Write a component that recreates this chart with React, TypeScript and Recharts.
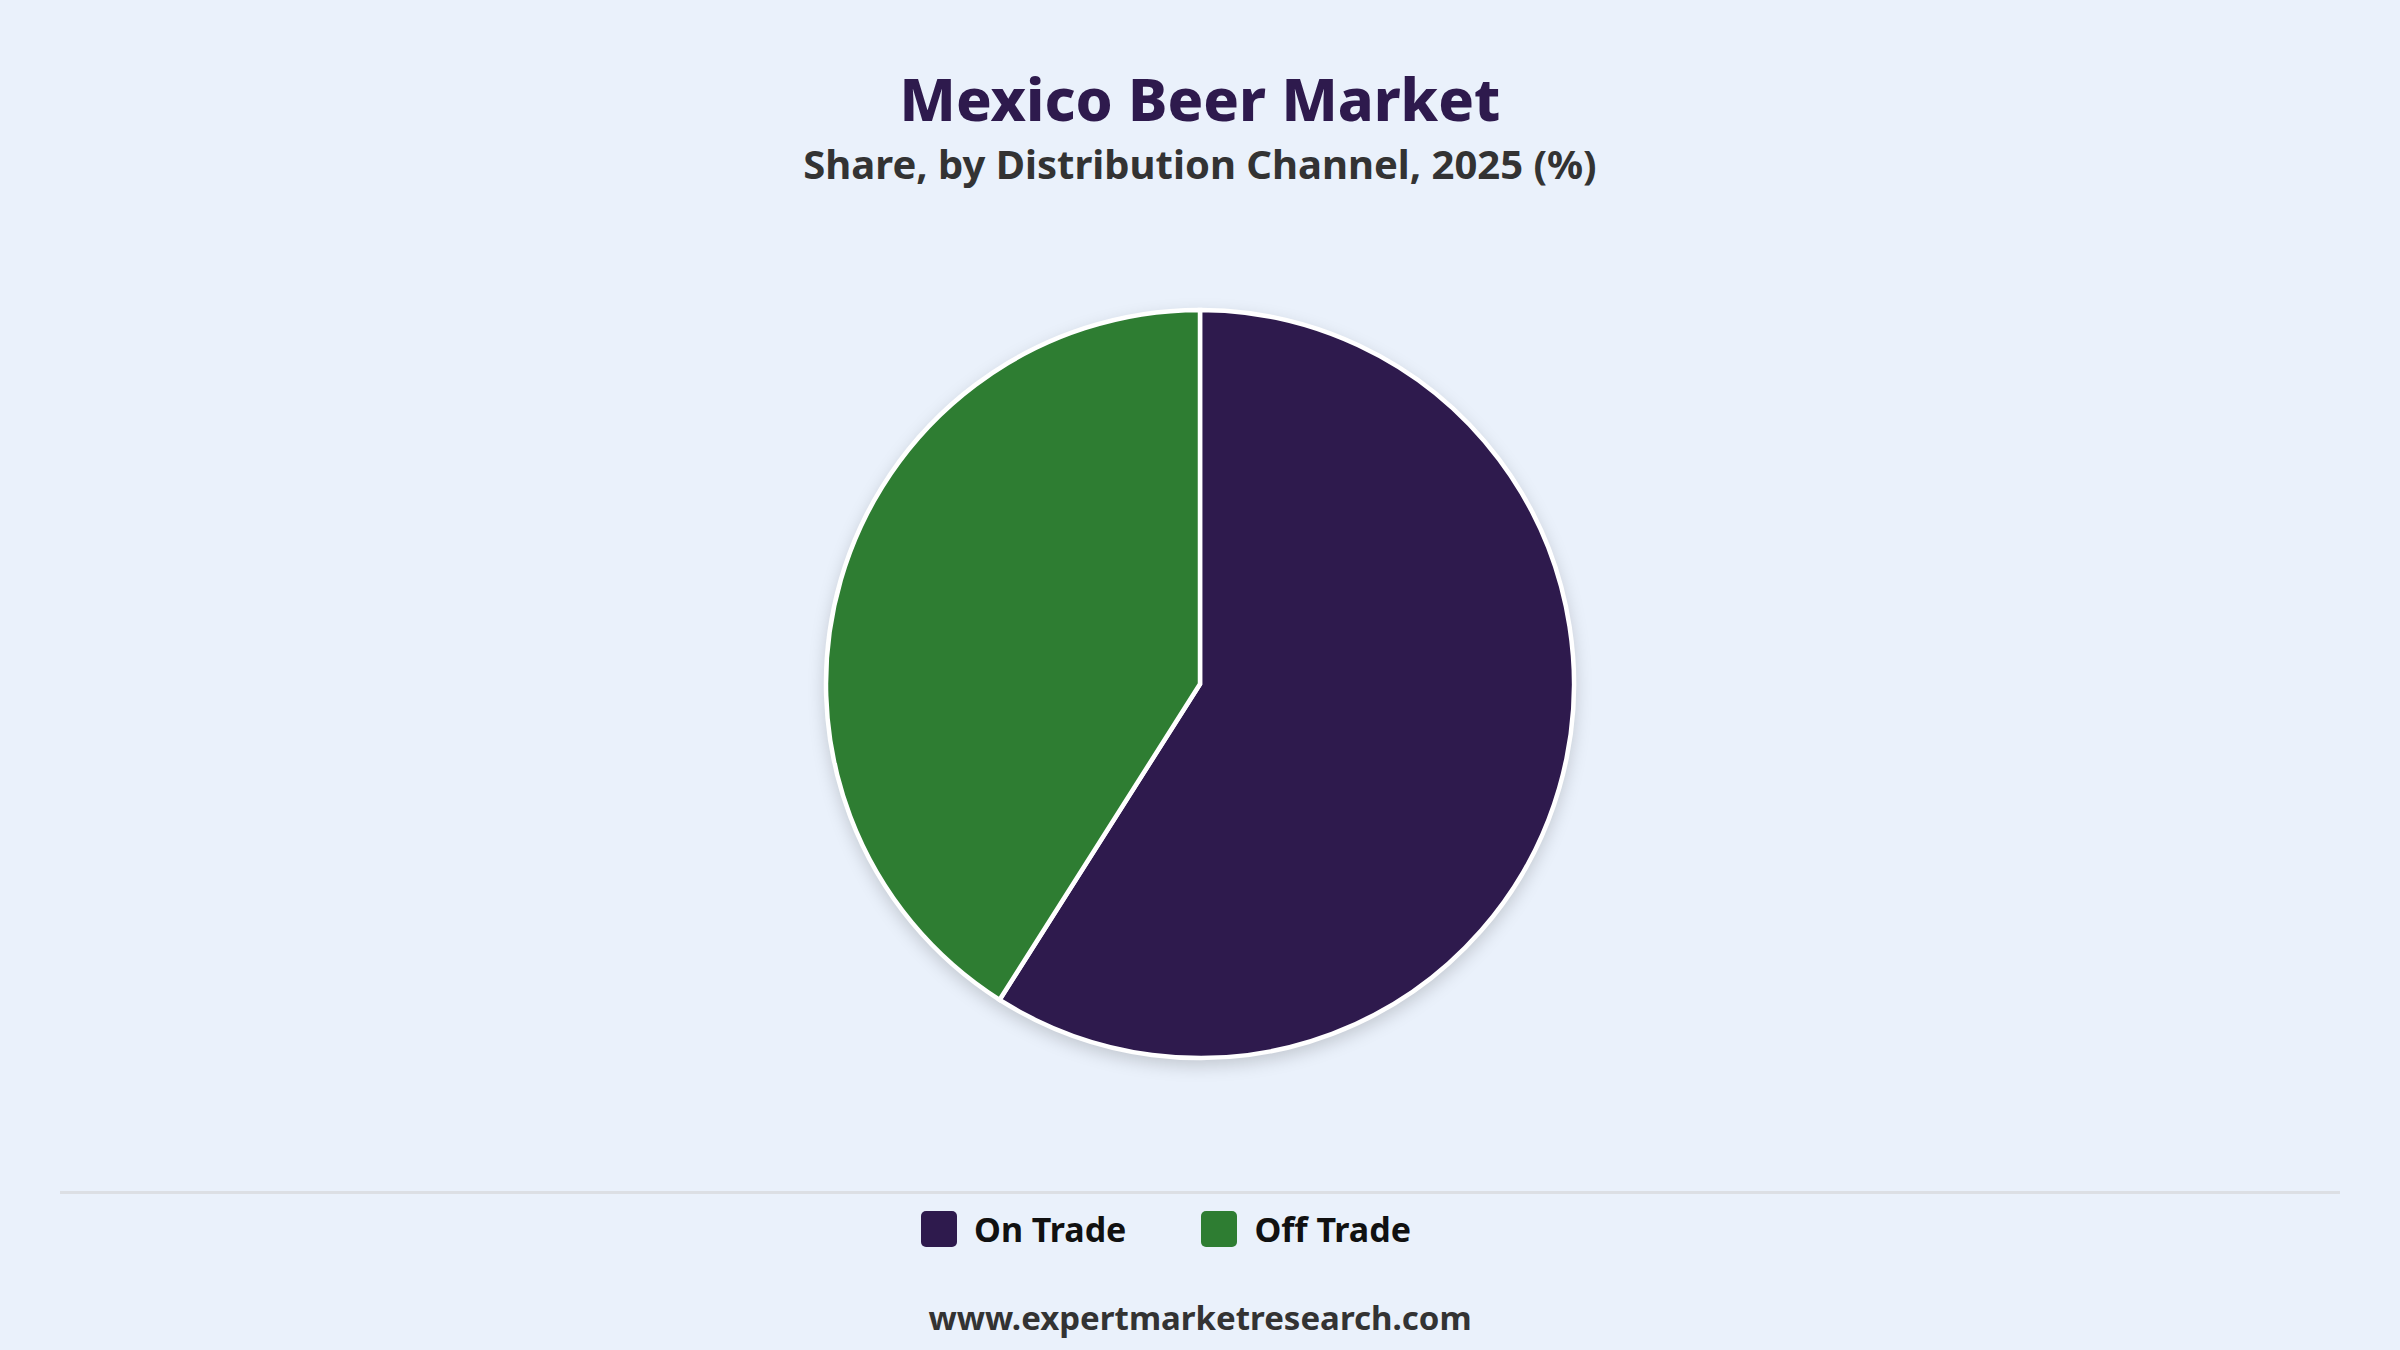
import React from "react";
import { PieChart, Pie, Cell } from "recharts";

const categories = ["On Trade", "Off Trade"];
const shares = [59, 41];
const colors = ["#2e1a4d", "#2e7d32"];

const data = categories.map((name, i) => ({ name, value: shares[i] }));

const FONT = "'Noto Sans', 'Open Sans', sans-serif";

export default function App() {
  return (
    <div
      style={{
        position: "absolute",
        left: 0,
        top: 0,
        width: 2400,
        height: 1350,
        background: "#eaf1fb",
        overflow: "hidden",
        fontFamily: FONT,
      }}
    >
      <style>{`.recharts-pie { filter: drop-shadow(0px 6px 8px rgba(0,0,0,0.16)); }`}</style>
      <div
        style={{
          position: "absolute",
          top: 60,
          width: 2400,
          textAlign: "center",
          fontSize: 59,
          fontWeight: 800,
          color: "#2e1a4d",
          lineHeight: "76px",
        }}
      >
        Mexico Beer Market
      </div>
      <div
        style={{
          position: "absolute",
          top: 138,
          width: 2400,
          textAlign: "center",
          fontSize: 40,
          fontWeight: 700,
          color: "#333",
          lineHeight: "52px",
        }}
      >
        Share, by Distribution Channel, 2025 (%)
      </div>
      <div style={{ position: "absolute", left: 0, top: 0 }}>
        <PieChart width={2400} height={1150} margin={{ top: 0, right: 0, bottom: 0, left: 0 }}>
          <Pie
            data={data}
            dataKey="value"
            nameKey="name"
            cx={1200}
            cy={684}
            outerRadius={374}
            startAngle={90}
            endAngle={-270}
            stroke="#ffffff"
            strokeWidth={4.5}
            isAnimationActive={false}
          >
            {data.map((d, i) => (
              <Cell key={d.name} fill={colors[i]} />
            ))}
          </Pie>
        </PieChart>
      </div>
      <div
        style={{
          position: "absolute",
          left: 60,
          top: 1191,
          width: 2280,
          height: 3,
          background: "#dcdfe4",
        }}
      />
      <div
        style={{
          position: "absolute",
          top: 1207,
          left: -34,
          width: 2400,
          height: 44,
          display: "flex",
          justifyContent: "center",
          alignItems: "center",
          gap: 75,
        }}
      >
        {categories.map((name, i) => (
          <div key={name} style={{ display: "flex", alignItems: "center" }}>
            <div
              style={{
                width: 36,
                height: 36,
                borderRadius: 5,
                background: colors[i],
                marginRight: 17,
              }}
            />
            <span style={{ fontSize: 34, fontWeight: 700, color: "#111", lineHeight: "44px" }}>{name}</span>
          </div>
        ))}
      </div>
      <div
        style={{
          position: "absolute",
          top: 1296,
          width: 2400,
          textAlign: "center",
          fontSize: 33,
          fontWeight: 700,
          color: "#333",
          lineHeight: "44px",
        }}
      >
        www.expertmarketresearch.com
      </div>
    </div>
  );
}
